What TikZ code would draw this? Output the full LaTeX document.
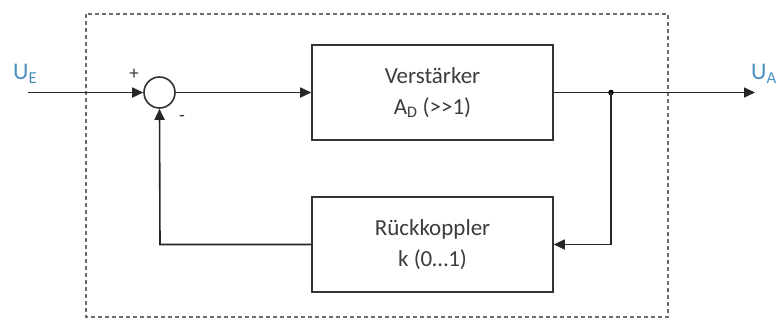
\documentclass[tikz,border=0pt]{standalone}
\usepackage{fontspec}
\setmainfont[Ligatures=NoCommon]{Carlito}
\usetikzlibrary{arrows.meta}
\definecolor{sig}{RGB}{75,145,190}
\definecolor{frame}{RGB}{110,110,110}
\definecolor{txt}{RGB}{60,60,60}
\tikzset{
  blockbox/.style={draw=black!80, line width=1.6pt, minimum width=241pt, minimum height=95pt, inner sep=0pt, align=center, font=\fontsize{23}{31}\selectfont, text=txt},
  sumnode/.style={draw=black!80, line width=1.6pt, circle, minimum size=31pt, inner sep=0pt},
  wire/.style={draw=black!85, line width=1.6pt},
  arr/.style={wire, -{Triangle[length=11pt,width=10pt]}},
  lbl/.style={font=\fontsize{24}{28}\selectfont, text=sig, inner sep=0pt},
  sgn/.style={font=\fontsize{19}{22}\selectfont, text=txt, inner sep=0pt}
}
\begin{document}
\begin{tikzpicture}[x=1pt,y=-1pt]
\useasboundingbox (0,0) rectangle (777,320);
\draw[frame, line width=1.5pt, dash pattern=on 4pt off 3pt] (86,14) rectangle (668,317);
\node[sumnode] (sum) at (159.5,92.5) {};
\node[blockbox] (amp) at (432.5,92.5) {Verstärker\\A\textsubscript{D} ({>}{>}1)};
\node[blockbox] (fb) at (432.5,244.5) {Rückkoppler\\k (0…1)};
\coordinate (in) at (28,92.5);
\coordinate (out) at (755,92.5);
\coordinate (jn) at (611,92.5);
\coordinate (fbr) at (611,244.5);
\coordinate (fbl) at (160,244.5);
\node[lbl, anchor=base west] (ue) at (13,80) {U\textsubscript{E}};
\node[lbl, anchor=base west] (ua) at (751,80) {U\textsubscript{A}};
\node[sgn] (plus) at (134,74) {+};
\node[sgn] (minus) at (182,118) {-};
\draw[arr] (in) -- (sum.west);
\draw[arr] (sum.east) -- (amp.west);
\draw[arr] (amp.east) -- (out);
\fill[black] (jn) circle (2.8pt);
\draw[arr] (jn) -- (fbr) -- (fb.east);
\draw[arr] (fb.west) -- (fbl) -- (sum.south);
\end{tikzpicture}
\end{document}
